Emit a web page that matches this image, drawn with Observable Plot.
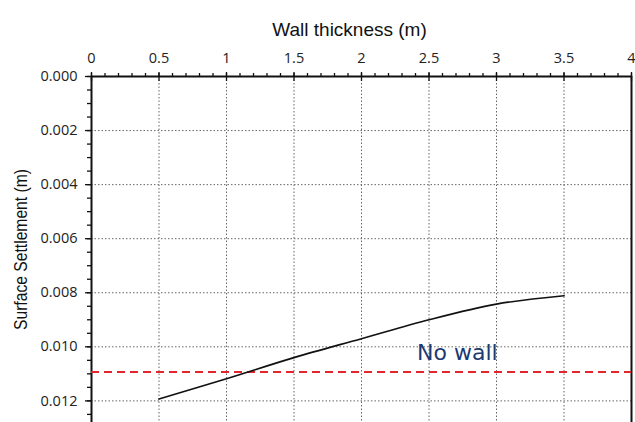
<!DOCTYPE html>
<html><head><meta charset="utf-8">
<script src="https://cdn.jsdelivr.net/npm/d3@7"></script>
<script src="https://cdn.jsdelivr.net/npm/@observablehq/plot@0.6"></script>
<style>
body{margin:0;background:#fff}
</style>
</head><body><div id="chart"></div>
<script>
const thickness = [0.5, 1.0, 1.5, 2.0, 2.5, 3.0, 3.5];
const settlement = [0.01193, 0.01118, 0.0104, 0.0097, 0.0090, 0.00842, 0.00811];
const noWall = 0.01093;
const noWallLabel = {x: 2.71, y: 0.01022, text: "No wall"};
const xTicks = [0, 0.5, 1, 1.5, 2, 2.5, 3, 3.5, 4];
const xMinor = d3.range(0, 4.001, 0.1);
const yTicks = [0, 0.002, 0.004, 0.006, 0.008, 0.010, 0.012];
const yMinor = d3.range(0, 0.0128, 0.0005);
const xTitle = "Wall thickness (m)";
const yTitle = "Surface Settlement (m)";

const data = thickness.map((x, i) => ({x, y: settlement[i]}));

const chart = Plot.plot({
  width: 635, height: 422,
  marginLeft: 91, marginRight: 4, marginTop: 76, marginBottom: 0,
  style: {fontFamily: "Open Sans", fontSize: "14.5px", color: "#222", background: "#fff"},
  x: {domain: [0, 4], axis: null},
  y: {domain: [0, 0.0128], reverse: true, axis: null},
  marks: [
    Plot.gridX(xTicks.slice(1, -1), {stroke: "#666", strokeOpacity: 1, strokeDasharray: "1.5,2", strokeWidth: 1}),
    Plot.gridY(yTicks.slice(1), {stroke: "#666", strokeOpacity: 1, strokeDasharray: "1.5,2", strokeWidth: 1}),
    // minor ticks
    Plot.axisX(xMinor, {anchor: "top", tickSize: 4, text: null, label: null, strokeWidth: 1.3, stroke: "#111"}),
    Plot.axisY(yMinor, {anchor: "left", tickSize: 4, text: null, label: null, strokeWidth: 1.3, stroke: "#111"}),
    // major ticks
    Plot.axisX(xTicks, {anchor: "top", tickSize: 5, tickPadding: 9, tickFormat: d => String(d), label: null, strokeWidth: 1.3, stroke: "#111", fill: "#222"}),
    Plot.axisX(xTicks, {anchor: "top", tickSize: -4, text: null, label: null, strokeWidth: 1.3, stroke: "#111"}),
    Plot.axisY(yTicks, {anchor: "left", tickSize: 6, tickPadding: 8, tickFormat: d3.format(".3f"), label: null, strokeWidth: 1.3, stroke: "#111", fill: "#222"}),
    // frame lines
    Plot.ruleY([0], {stroke: "#111", strokeWidth: 2}),
    Plot.ruleX([0], {stroke: "#111", strokeWidth: 2}),
    Plot.ruleX([4], {stroke: "#111", strokeWidth: 2}),
    // no wall reference
    Plot.ruleY([noWall], {stroke: "#e3262b", strokeWidth: 2, strokeDasharray: "8,5"}),
    Plot.text([noWallLabel], {x: "x", y: "y", text: "text", fill: "#1b3a73", fontSize: 22, fontFamily: "DejaVu Sans"}),
    // data line
    Plot.line(data, {x: "x", y: "y", stroke: "#111", strokeWidth: 1.7, curve: "catmull-rom"}),
    // titles
    Plot.text([xTitle], {frameAnchor: "top", dx: -12, dy: -54, fontSize: 19, fontFamily: "Liberation Sans", fill: "#111"}),
    Plot.text([yTitle], {frameAnchor: "left", textAnchor: "middle", dx: -71, dy: 0, rotate: -90, fontSize: 19, fontFamily: "Liberation Sans", fill: "#111", className: "ytitle"})
  ]
});
chart.querySelectorAll('[aria-label$="tick label"]').forEach(g => {
  g.style.fontSize = "14.5px";
  g.style.fontFamily = "'Open Sans'";
  g.querySelectorAll("text").forEach(t => { t.style.fontSize = "14.5px"; });
});
const yt = chart.querySelector(".ytitle text");
if (yt) { yt.setAttribute("textLength", "161"); yt.setAttribute("lengthAdjust", "spacingAndGlyphs"); }
document.getElementById("chart").appendChild(chart);
</script>
</body></html>
